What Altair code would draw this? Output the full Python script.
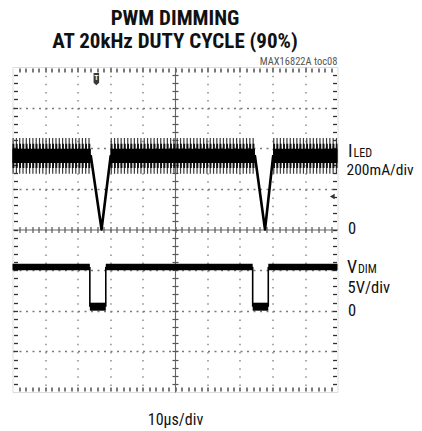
import altair as alt
import numpy as np
import pandas as pd

# ---------------- data ----------------
# time axis in microseconds (10 us/div, 10 divisions)
t_min, t_max = 0.0, 100.0
# vertical axis in scope divisions (8 divisions)
div_min, div_max = -4.0, 4.0

# ILED channel: 200 mA/div, ground on the centre line (0 div)
iled_scale_ma = 200.0
iled_on_start = [0.0, 30.2, 80.2]      # us, regulated (switching) intervals
iled_on_end = [24.1, 74.6, 100.0]
iled_ripple_hi = 450.0                 # mA, ripple envelope
iled_ripple_lo = 275.0
iled_core_hi = 397.0                   # mA, dense part of the ripple
iled_core_lo = 328.0
dip_id = [1, 1, 1, 2, 2, 2]
dip_t = [24.1, 27.4, 30.2, 74.6, 77.7, 80.2]
dip_ma = [362.0, 0.0, 362.0, 362.0, 0.0, 362.0]

# VDIM channel: 5 V/div, ground two divisions below the centre
vdim_scale_v = 5.0
vdim_ground_div = -2.0
vdim_edges = [0.0, 23.8, 28.7, 73.9, 78.7, 100.0]
vdim_levels = [5.4, 0.5, 5.4, 0.5, 5.4]

# scope markers
trigger_t, trigger_div = 25.8, 3.7
ref_marker_t, ref_marker_div = 98.4, 0.81

# texts
title_lines = ["PWM DIMMING", "AT 20kHz DUTY CYCLE (90%)"]
x_caption = "10μs/div"
note = "MAX16822A toc08"

# ---------------- layout ----------------
W, H = 325, 325
PX_PER_DIV = H / (div_max - div_min)
FONT = "Liberation Sans Narrow, Arial Narrow, Roboto Condensed, Roboto, sans-serif"
TXT = "#111111"

xs = alt.Scale(domain=[t_min, t_max], nice=False, zero=False)
ys = alt.Scale(domain=[div_min, div_max], nice=False, zero=False)

frame = pd.DataFrame({"t": [t_min, t_max], "d": [div_min, div_max]})

x_major = [10, 20, 30, 40, 60, 70, 80, 90]
y_major = [-3, -2, -1, 1, 2, 3]
x_minor = [round(v, 2) for v in np.arange(2, 100, 2)]
y_minor = [round(v, 2) for v in np.arange(-3.8, 3.9, 0.2)]


def guide(xaxis, yaxis):
    return alt.Chart(frame).mark_point(opacity=0).encode(
        x=alt.X("t:Q", scale=xs, axis=xaxis),
        y=alt.Y("d:Q", scale=ys, axis=yaxis),
    )


def ax(**kw):
    base = dict(labels=False, domain=False, grid=False, ticks=False, title=None)
    base.update(kw)
    return alt.Axis(**base)


# dotted graticule + bottom caption
grid_layer = guide(
    ax(orient="bottom", values=x_major, grid=True, gridDash=[1.6, 6.525],
       gridColor="#7a7a7a", gridWidth=1.3, title=x_caption, titleFont=FONT,
       titleFontSize=16, titleFontWeight="normal", titleColor=TXT,
       titleBaseline="alphabetic", titlePadding=32),
    ax(orient="left", values=y_major, grid=True, gridDash=[2.0, 4.5],
       gridColor="#7a7a7a", gridWidth=1.3),
)
# inward minor ticks on the frame
tick_style = dict(ticks=True, tickSize=4, tickColor="#333333", tickWidth=1.3)
frame_a = guide(ax(orient="bottom", offset=-5, values=x_minor, **tick_style),
                ax(orient="left", offset=-5, values=y_minor, **tick_style))
frame_b = guide(ax(orient="top", offset=-5, values=x_minor, **tick_style),
                ax(orient="right", offset=-5, values=y_minor, **tick_style))
# centre cross-hair lines with minor ticks
c_style = dict(ticks=True, tickSize=3, tickColor="#555555", tickWidth=1.2)
centre_a = guide(ax(orient="bottom", offset=-H / 2, values=x_minor, domain=True,
                    domainColor="#666666", domainWidth=1.1, **c_style),
                 ax(orient="left", offset=-W / 2, values=y_minor, domain=True,
                    domainColor="#666666", domainWidth=1.1, **c_style))
centre_b = guide(ax(orient="top", offset=-H / 2, values=x_minor, **c_style),
                 ax(orient="right", offset=-W / 2, values=y_minor, **c_style))

# ---------------- ILED trace ----------------
band = pd.DataFrame({"t0": iled_on_start, "t1": iled_on_end})
band["lvl"] = (iled_ripple_hi + iled_ripple_lo) / 2 / iled_scale_ma
ripple_px = (iled_ripple_hi - iled_ripple_lo) / iled_scale_ma * PX_PER_DIV
core_px = (iled_core_hi - iled_core_lo) / iled_scale_ma * PX_PER_DIV


def band_rule(width, dash, color):
    kw = dict(strokeWidth=width, color=color, strokeCap="butt")
    if dash:
        kw["strokeDash"] = dash
    return alt.Chart(band).mark_rule(**kw).encode(
        x=alt.X("t0:Q", scale=xs, axis=None), x2="t1:Q",
        y=alt.Y("lvl:Q", scale=ys, axis=None))


band_outer = band_rule(ripple_px, [1.2, 2.1], "#3a3a3a")
band_mid = band_rule(ripple_px * 0.68, [1.9, 1.4], "#111111")
band_core = band_rule(core_px, None, "#000000")

dips = pd.DataFrame({"id": dip_id, "t": dip_t, "ma": dip_ma})
dips["d"] = dips["ma"] / iled_scale_ma
dip_line = alt.Chart(dips).mark_line(color="black", strokeWidth=2.6,
                                     strokeJoin="round", strokeCap="round").encode(
    x=alt.X("t:Q", scale=xs, axis=None), y=alt.Y("d:Q", scale=ys, axis=None),
    detail="id:N")

# ---------------- VDIM trace ----------------
vseg = pd.DataFrame({"t0": vdim_edges[:-1], "t1": vdim_edges[1:], "v": vdim_levels})
vseg["d"] = vseg["v"] / vdim_scale_v + vdim_ground_div
vhi = alt.Chart(vseg).transform_filter("datum.v > 2.5").mark_rule(
    strokeWidth=6.5, color="black", strokeCap="butt").encode(
    x=alt.X("t0:Q", scale=xs, axis=None), x2="t1:Q",
    y=alt.Y("d:Q", scale=ys, axis=None))
vlo = alt.Chart(vseg).transform_filter("datum.v <= 2.5").mark_rule(
    strokeWidth=8, color="black", strokeCap="butt").encode(
    x=alt.X("t0:Q", scale=xs, axis=None), x2="t1:Q",
    y=alt.Y("d:Q", scale=ys, axis=None))
vedge = pd.DataFrame({"t": vdim_edges[1:-1], "a": vdim_levels[:-1], "b": vdim_levels[1:]})
vedge["da"] = vedge["a"] / vdim_scale_v + vdim_ground_div
vedge["db"] = vedge["b"] / vdim_scale_v + vdim_ground_div
vedges = alt.Chart(vedge).mark_rule(strokeWidth=1.6, color="black").encode(
    x=alt.X("t:Q", scale=xs, axis=None),
    y=alt.Y("da:Q", scale=ys, axis=None), y2="db:Q")

# ---------------- markers ----------------
trig = pd.DataFrame({"t": [trigger_t], "d": [trigger_div], "s": ["T"]})
trig_pt = alt.Chart(trig).mark_point(
    shape="M-0.45,-1L0.45,-1L0.45,0.6L0,1L-0.45,0.6Z", filled=True, size=150,
    color="#3a3a3a", opacity=1).encode(
    x=alt.X("t:Q", scale=xs, axis=None), y=alt.Y("d:Q", scale=ys, axis=None))
trig_txt = alt.Chart(trig).mark_text(font="Liberation Sans", fontSize=7,
                                     fontWeight="bold", color="white", dy=-1).encode(
    x=alt.X("t:Q", scale=xs, axis=None), y=alt.Y("d:Q", scale=ys, axis=None),
    text="s:N")
refm = pd.DataFrame({"t": [ref_marker_t], "d": [ref_marker_div]})
ref_pt = alt.Chart(refm).mark_point(shape="triangle-left", filled=True, size=30,
                                    color="#333333", opacity=1).encode(
    x=alt.X("t:Q", scale=xs, axis=None), y=alt.Y("d:Q", scale=ys, axis=None))

# ---------------- texts ----------------
iled_lvl = (iled_ripple_hi + iled_ripple_lo) / 2 / iled_scale_ma
vdim_hi = max(vdim_levels) / vdim_scale_v + vdim_ground_div


def label(text, d, dx, dy, size=16.5, baseline="alphabetic", t=t_max,
          align="left", color=TXT, font=FONT, weight="normal"):
    df = pd.DataFrame({"t": [t], "d": [d], "s": [text]})
    return alt.Chart(df).mark_text(align=align, baseline=baseline, dx=dx, dy=dy,
                                   font=font, fontSize=size, color=color,
                                   fontWeight=weight).encode(
        x=alt.X("t:Q", scale=xs, axis=None), y=alt.Y("d:Q", scale=ys, axis=None),
        text="s:N")


t_mid = (t_min + t_max) / 2
texts = [
    label(title_lines[0], div_max, 0, -42.5, size=21, t=t_mid, align="center",
          weight="bold"),
    label(title_lines[1], div_max, 0, -19, size=21, t=t_mid, align="center",
          weight="bold"),
    label("I", iled_lvl, 10.5, 1, size=18),
    label("LED", iled_lvl, 16, 1, size=12),
    label("200mA/div", iled_lvl, 9, 19.5, size=15.5),
    label("0", 0.0, 10.5, -1, baseline="middle"),
    label("V", vdim_hi, 9.5, 6, size=18),
    label("DIM", vdim_hi, 20.5, 6, size=12),
    label("5V/div", vdim_hi, 10, 26),
    label("0", vdim_ground_div, 10.5, 0, baseline="middle"),
    label(note, div_max, 0, -2, size=10.5, align="right", color="#555555"),
]

chart = alt.layer(
    grid_layer, frame_a, frame_b, centre_a, centre_b,
    band_outer, band_mid, band_core, dip_line,
    vhi, vlo, vedges, trig_pt, trig_txt, ref_pt, *texts,
).resolve_axis(x="independent", y="independent").properties(
    width=W, height=H,
    autosize=alt.AutoSizeParams(type="none"),
    padding={"left": 4.5, "top": 59, "right": 76.5, "bottom": 38},
).configure_view(stroke="black", strokeWidth=3).configure(background="white")

chart.save("out.html", embed_options={"renderer": "svg", "actions": False})
